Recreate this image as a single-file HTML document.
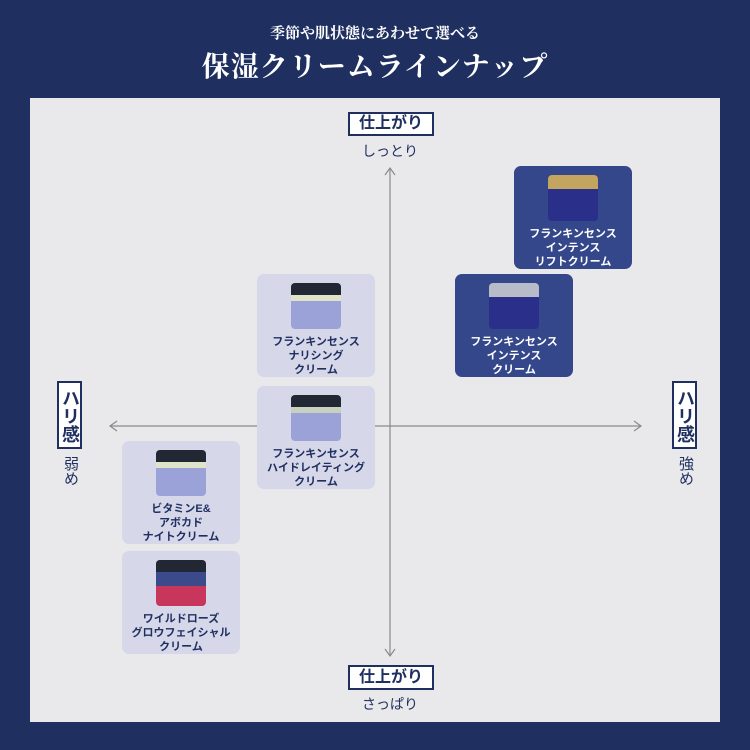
<!DOCTYPE html>
<html><head><meta charset="utf-8"><style>
*{margin:0;padding:0;box-sizing:border-box}
body{width:750px;height:750px;background:#1f3060;position:relative;overflow:hidden;font-family:"Liberation Sans","Noto Sans CJK JP",sans-serif}
.t1{position:absolute;left:0;width:750px;top:22px;text-align:center;color:#fff;font-size:15px;font-weight:bold;font-family:"Liberation Serif","Noto Serif CJK SC",serif}
.t2{position:absolute;left:0;width:750px;top:45px;text-align:center;color:#fff;font-size:28px;font-weight:bold;font-family:"Liberation Serif","Noto Serif CJK SC",serif;letter-spacing:1px}
.panel{position:absolute;left:30px;top:98px;width:690px;height:624px;background:#e9e9eb}
.card{position:absolute;width:118px;height:103px;border-radius:7px;background:#d6d7e9;text-align:center;color:#1f3060;font-size:11px;line-height:14px;font-weight:bold}
.card.d{background:#34478a;color:#fff}
.card .txt{position:absolute;left:0;right:0;top:61px}
.jar{position:absolute;left:34px;top:9px;width:50px;height:46px;border-radius:4px;overflow:hidden;background:#9ba2d8}
.jar .lid{height:12px;background:#222833}
.jar .band{height:6px;background:#dfe3c8}
.hbox{position:absolute;border:2px solid #1f3060;background:#fff;color:#1f3060;font-weight:bold;font-size:16px;text-align:center}
.lbl{position:absolute;color:#1f3060;font-size:14px;text-align:center}
.vt{writing-mode:vertical-rl}
</style></head><body>
<div class="t1">季節や肌状態にあわせて選べる</div>
<div class="t2">保湿クリームラインナップ</div>
<div class="panel"></div>
<svg style="position:absolute;left:0;top:0" width="750" height="750">
<g stroke="#8a8a8a" stroke-width="1.2" fill="none">
<line x1="390" y1="168" x2="390" y2="656"/>
<polyline points="385,175 390,168 395,175"/>
<polyline points="385,649 390,656 395,649"/>
<line x1="110" y1="426" x2="641" y2="426"/>
<polyline points="117,421 110,426 117,431"/>
<polyline points="634,421 641,426 634,431"/>
</g></svg>
<div class="hbox" style="left:348px;top:112px;width:86px;height:24px;line-height:20px">仕上がり</div>
<div class="lbl" style="left:340px;top:141px;width:100px">しっとり</div>
<div class="hbox" style="left:348px;top:665px;width:86px;height:25px;line-height:21px">仕上がり</div>
<div class="lbl" style="left:340px;top:694px;width:100px">さっぱり</div>
<div class="hbox vt" style="left:57px;top:381px;width:25px;height:68px;line-height:21px;padding-top:2px;font-size:18px">ハリ感</div>
<div class="lbl vt" style="left:59px;top:456px;width:22px;line-height:22px;font-size:15px">弱め</div>
<div class="hbox vt" style="left:672px;top:381px;width:25px;height:68px;line-height:21px;padding-top:2px;font-size:18px">ハリ感</div>
<div class="lbl vt" style="left:674px;top:456px;width:22px;line-height:22px;font-size:15px">強め</div>

<div class="card d" style="left:514px;top:166px"><div class="jar" style="background:#2a2f8a"><div class="lid" style="background:#c4a560;height:14px"></div></div><div class="txt">フランキンセンス<br>インテンス<br>リフトクリーム</div></div>
<div class="card d" style="left:455px;top:274px"><div class="jar" style="background:#2a2f8a"><div class="lid" style="background:#b8bcc8;height:14px"></div></div><div class="txt">フランキンセンス<br>インテンス<br>クリーム</div></div>
<div class="card" style="left:257px;top:274px"><div class="jar"><div class="lid"></div><div class="band"></div></div><div class="txt">フランキンセンス<br>ナリシング<br>クリーム</div></div>
<div class="card" style="left:257px;top:386px"><div class="jar"><div class="lid"></div><div class="band" style="background:#c8d0c0"></div></div><div class="txt">フランキンセンス<br>ハイドレイティング<br>クリーム</div></div>
<div class="card" style="left:122px;top:441px"><div class="jar"><div class="lid"></div><div class="band"></div></div><div class="txt">ビタミンE&amp;<br>アボカド<br>ナイトクリーム</div></div>
<div class="card" style="left:122px;top:551px"><div class="jar" style="background:#c8365c"><div class="lid"></div><div class="band" style="background:#3a4a8a;height:14px"></div></div><div class="txt">ワイルドローズ<br>グロウフェイシャル<br>クリーム</div></div>
</body></html>
